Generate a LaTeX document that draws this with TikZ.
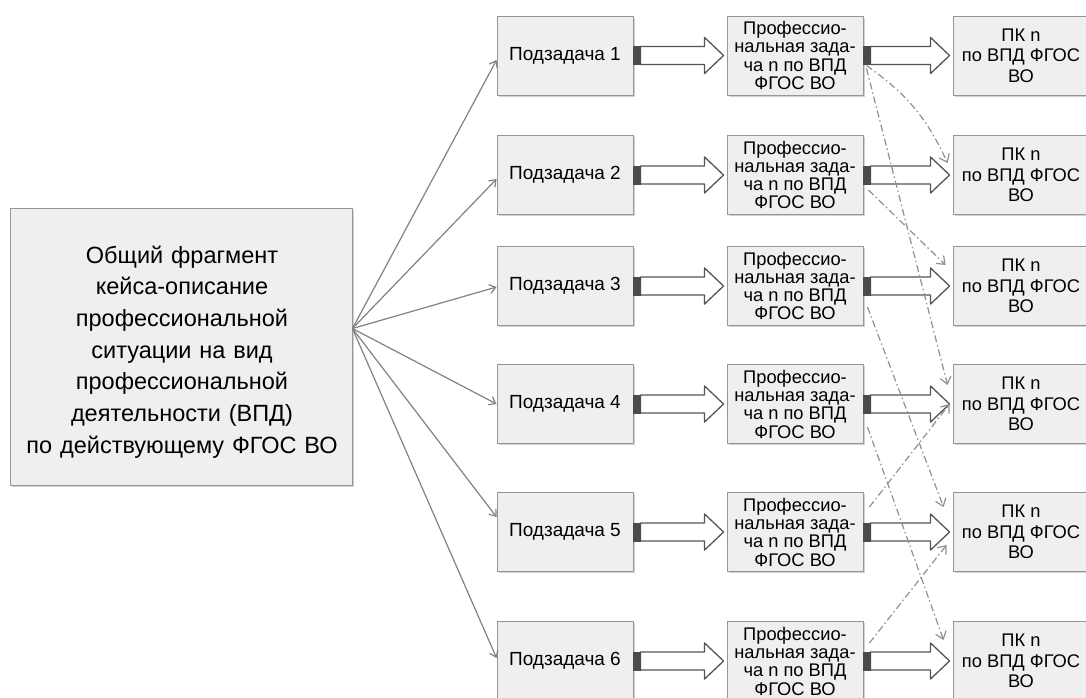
\documentclass[tikz,border=0pt]{standalone}
\usepackage{fontspec}
\setmainfont{Liberation Sans}
\usetikzlibrary{calc,arrows.meta,shadows}
\definecolor{boxfill}{RGB}{240,239,240}
\definecolor{boxline}{RGB}{150,150,150}
\definecolor{fanc}{RGB}{130,130,130}
\definecolor{dashc}{RGB}{145,145,145}
\definecolor{arrline}{RGB}{85,85,85}
\definecolor{stubc}{RGB}{75,75,75}
\tikzset{
  bx/.style={draw=boxline, fill=boxfill, line width=0.9pt, inner sep=1pt,
    drop shadow={shadow xshift=1.5pt, shadow yshift=-1.5pt, opacity=0.35, fill=gray}},
  subbox/.style={bx, minimum width=136, minimum height=79, font=\fontsize{19}{20}\selectfont},
  profbox/.style={bx, minimum width=136, minimum height=79, align=center, font=\fontsize{18.3}{18.3}\selectfont},
  pkbox/.style={bx, minimum width=136, minimum height=79, align=center, font=\fontsize{18.3}{20.5}\selectfont},
  fan/.style={draw=fanc, line width=1.2pt, -{Straight Barb[length=6pt,width=9pt]}},
  dd/.style={draw=dashc, line width=1.2pt, dash pattern=on 7pt off 3pt on 1.5pt off 3pt, -{Straight Barb[length=7pt,width=11pt]}},
  arrowbody/.style={draw=arrline, line width=1.3pt, fill=white, line join=round},
  stub/.style={fill=stubc, draw=stubc, line width=0.5pt}
}
\newcommand\blockarrow[2]{%
  \draw[arrowbody] ($(#1.east)+(7,-9)$) -- ($(#2.west)+(-22,-9)$) -- ($(#2.west)+(-22,-18)$) -- ($(#2.west)+(-3,0)$) -- ($(#2.west)+(-22,18)$) -- ($(#2.west)+(-22,9)$) -- ($(#1.east)+(7,9)$) -- cycle;
  \filldraw[stub] ($(#1.east)+(0,-9)$) rectangle ($(#1.east)+(7,9)$);
}
\begin{document}
\begin{tikzpicture}[x=1pt,y=-1pt]
\useasboundingbox (0,0) rectangle (1086,697);
\fill[white] (0,0) rectangle (1086,697);

\node[bx, minimum width=342, minimum height=277] (L) at (181,346.5) {};
\node[text width=336, align=center, font=\fontsize{23.5}{31.7}\selectfont] (Lt) at (182,352)
  {Общий фрагмент\\кейса-описание\\профессиональной\\ситуации на вид\\профессиональной\\деятельности (ВПД)\\по действующему ФГОС ВО};

\foreach \i/\y in {1/55.5,2/175,3/286,4/404,5/532,6/661}{
  \node[subbox] (s\i) at (565,\y) {Подзадача \i};
  \node[profbox] (p\i) at (795,\y) {Профессио-\\нальная зада-\\ча n по ВПД\\ФГОС ВО};
  \node[pkbox] (k\i) at (1021,\y) {ПК n\\по ВПД ФГОС\\ВО};
}

\foreach \i in {1,...,6}{
  \blockarrow{s\i}{p\i}
  \blockarrow{p\i}{k\i}
}

\coordinate (hub) at ($(L.east)+(0,-18)$);
\draw[fan] (hub) -- ($(s1.west)+(0,4.5)$);
\draw[fan] (hub) -- ($(s2.west)+(0,4)$);
\draw[fan] (hub) -- ($(s3.west)+(0,1)$);
\draw[fan] (hub) -- (s4.west);
\draw[fan] (hub) -- ($(s5.west)+(0,-15)$);
\draw[fan] (hub) -- ($(s6.west)+(0,-3)$);

\draw[dd] ($(p1.east)+(3,10)$) to[bend left=15] ($(k2.west)+(-5,-12)$);
\draw[dd] ($(p1.east)+(3,13)$) -- ($(k4.west)+(-5,-19)$);
\draw[dd] ($(p2.east)+(5,15)$) -- ($(k3.west)+(-7,-21)$);
\draw[dd] ($(p3.east)+(4,21)$) -- ($(k5.west)+(-9,-25)$);
\draw[dd] ($(p4.east)+(4,23)$) -- ($(k6.west)+(-9,-21)$);
\draw[dd] ($(p5.east)+(6,-25)$) -- ($(k4.west)+(-3,0)$);
\draw[dd] ($(p6.east)+(6,-18)$) -- ($(k5.west)+(-6,13)$);
\end{tikzpicture}
\end{document}
